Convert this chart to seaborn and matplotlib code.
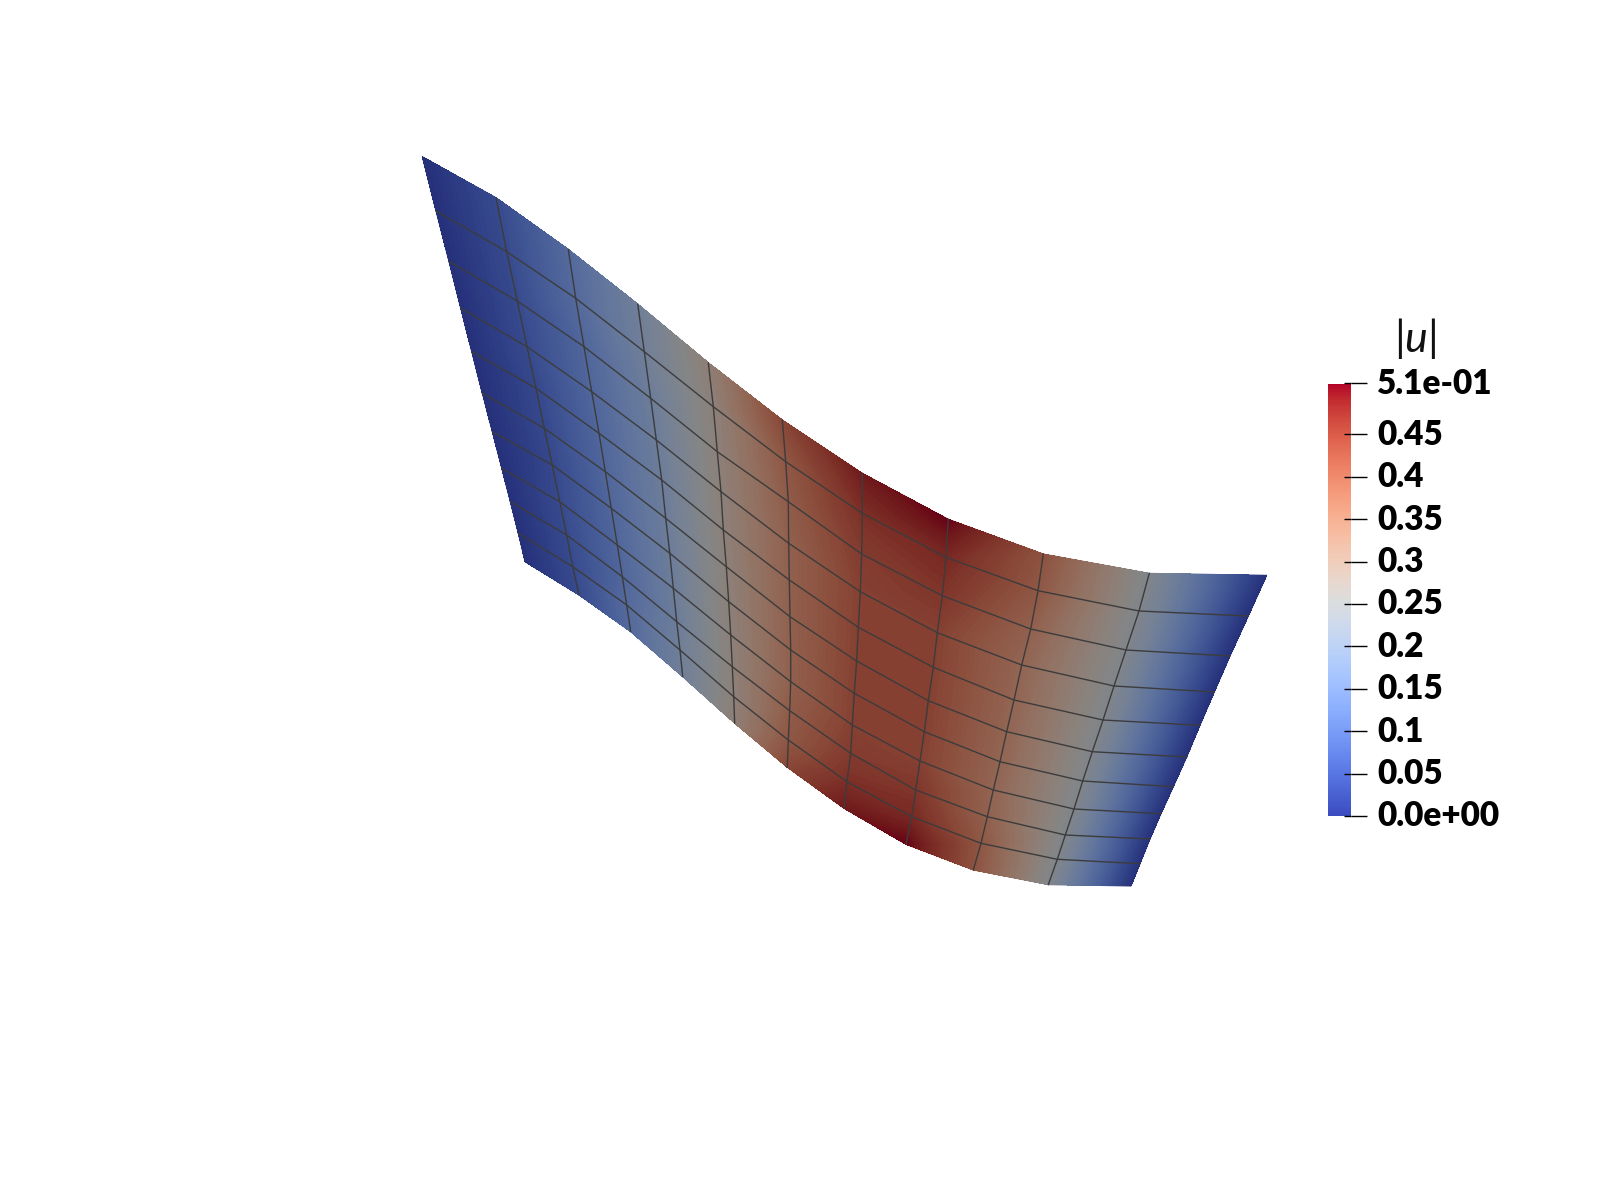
import numpy as np
import pandas as pd
import matplotlib
matplotlib.use("Agg")
import matplotlib.pyplot as plt
import matplotlib.tri as mtri
from matplotlib.cm import ScalarMappable
from matplotlib.colors import ListedColormap, Normalize
from matplotlib.transforms import ScaledTranslation
import seaborn as sns

# mesh nodes, one row per mesh column
node_x = [
    [422.3, 436.0, 449.0, 460.7, 471.7, 482.3, 492.3, 501.7, 510.3, 518.3, 525.0],
    [496.0, 506.7, 517.3, 527.0, 536.0, 544.3, 552.3, 559.7, 566.7, 572.7, 579.0],
    [568.3, 575.7, 584.0, 591.7, 599.0, 605.3, 611.3, 617.3, 622.3, 626.7, 630.7],
    [637.7, 644.3, 650.7, 656.3, 661.7, 665.7, 669.8, 673.3, 676.7, 680.0, 682.7],
    [708.3, 713.3, 717.3, 721.0, 723.3, 726.3, 728.7, 730.7, 732.3, 733.7, 734.7],
    [782.3, 785.7, 788.3, 788.7, 789.3, 790.0, 790.7, 790.7, 789.7, 788.3, 787.3],
    [862.3, 862.3, 861.7, 860.3, 858.3, 856.7, 854.3, 852.3, 850.7, 847.0, 844.0],
    [948.3, 946.0, 942.3, 937.3, 933.3, 928.3, 924.3, 920.0, 915.7, 911.7, 906.0],
    [1043.3, 1038.0, 1030.7, 1021.7, 1014.0, 1006.7, 1000.0, 993.3, 987.3, 981.0, 973.3],
    [1149.3, 1139.0, 1126.0, 1114.0, 1103.0, 1092.3, 1082.7, 1074.0, 1065.3, 1057.3, 1048.3],
    [1266.7, 1248.3, 1230.0, 1214.3, 1200.0, 1186.7, 1173.3, 1161.0, 1150.0, 1140.0, 1131.0],
]
node_y = [
    [156.7, 211.0, 261.7, 308.3, 351.7, 393.3, 431.7, 468.3, 501.7, 533.3, 561.7],
    [197.7, 251.7, 301.0, 346.7, 388.3, 428.3, 465.0, 501.7, 535.0, 566.7, 595.0],
    [249.3, 298.3, 346.7, 391.7, 433.3, 471.7, 508.3, 545.0, 576.7, 605.0, 631.7],
    [304.0, 351.7, 398.3, 440.0, 480.0, 518.3, 553.3, 588.3, 621.7, 650.0, 676.7],
    [362.7, 406.7, 451.7, 491.7, 530.0, 566.7, 601.7, 635.0, 666.7, 696.7, 723.3],
    [420.0, 461.7, 501.7, 543.3, 580.0, 616.7, 650.0, 681.7, 710.7, 740.0, 767.3],
    [473.3, 513.3, 554.0, 591.7, 627.3, 661.0, 693.3, 725.0, 753.3, 781.7, 808.3],
    [519.3, 557.3, 595.7, 632.7, 667.3, 700.7, 731.7, 761.0, 790.0, 816.7, 844.3],
    [554.0, 590.7, 629.0, 665.0, 700.0, 731.7, 761.7, 790.0, 816.7, 843.3, 870.0],
    [573.3, 611.0, 650.0, 686.0, 720.0, 751.7, 781.0, 809.0, 835.0, 859.3, 884.7],
    [575.3, 616.0, 656.0, 692.0, 725.3, 757.0, 786.7, 813.7, 839.0, 863.7, 886.0],
]
# |u| at the nodes, same layout
node_u = [
    [0.0, 0.0, 0.0, 0.0, 0.0, 0.0, 0.0, 0.0, 0.0, 0.0, 0.0],
    [0.05, 0.05, 0.05, 0.05, 0.045, 0.045, 0.045, 0.05, 0.05, 0.05, 0.05],
    [0.12, 0.12, 0.11, 0.11, 0.11, 0.11, 0.11, 0.11, 0.11, 0.12, 0.12],
    [0.19, 0.19, 0.18, 0.18, 0.18, 0.18, 0.18, 0.18, 0.18, 0.19, 0.19],
    [0.29, 0.28, 0.28, 0.28, 0.28, 0.28, 0.28, 0.28, 0.28, 0.28, 0.29],
    [0.42, 0.39, 0.38, 0.37, 0.37, 0.37, 0.37, 0.37, 0.38, 0.39, 0.42],
    [0.49, 0.46, 0.44, 0.43, 0.43, 0.43, 0.43, 0.43, 0.44, 0.46, 0.49],
    [0.51, 0.47, 0.45, 0.43, 0.43, 0.43, 0.43, 0.43, 0.45, 0.47, 0.51],
    [0.40, 0.39, 0.37, 0.36, 0.36, 0.36, 0.36, 0.36, 0.37, 0.39, 0.40],
    [0.24, 0.24, 0.24, 0.24, 0.24, 0.24, 0.24, 0.24, 0.24, 0.24, 0.24],
    [0.0, 0.0, 0.0, 0.0, 0.0, 0.0, 0.0, 0.0, 0.0, 0.0, 0.0],
]

u_max = 0.51
tick_values = [0, 0.05, 0.1, 0.15, 0.2, 0.25, 0.3, 0.35, 0.4, 0.45, 0.51]
tick_labels = ["0.0e+00", "0.05", "0.1", "0.15", "0.2", "0.25", "0.3", "0.35", "0.4", "0.45", "5.1e-01"]
bar_title = r"$|u|$"

sns.set_theme(style="white")
plt.rcParams["font.family"] = ["Lato", "DejaVu Sans"]
plt.rcParams["mathtext.fontset"] = "custom"
plt.rcParams["mathtext.it"] = "Lato:italic"
plt.rcParams["mathtext.rm"] = "Lato"

x = np.array(node_x)
y = np.array(node_y)
u = np.array(node_u)
n_col, n_row = x.shape

# surface is lit, so the colours are darker than in the bar
base_cmap = sns.color_palette("coolwarm", as_cmap=True)
lit = base_cmap(np.linspace(0, 1, 256))
lit[:, :3] *= np.linspace(0.63, 0.575, 256)[:, None]
lit_cmap = ListedColormap(lit)

fig = plt.figure(figsize=(16, 12), dpi=100)
ax = fig.add_axes([0, 0, 1, 1])

idx = np.arange(n_col * n_row).reshape(n_col, n_row)
triangles = []
for i in range(n_col - 1):
    for j in range(n_row - 1):
        triangles.append([idx[i, j], idx[i + 1, j], idx[i, j + 1]])
        triangles.append([idx[i + 1, j], idx[i + 1, j + 1], idx[i, j + 1]])
tri = mtri.Triangulation(x.ravel(), y.ravel(), triangles)

ax.tripcolor(tri, u.ravel(), shading="gouraud", cmap=lit_cmap, vmin=0, vmax=u_max)
ax.tricontourf(tri, u.ravel(), levels=np.linspace(0, u_max, 120), cmap=lit_cmap,
               vmin=0, vmax=u_max, extend="both", antialiased=False)

# mesh lines, the outer edge has none
mesh_rows = []
for i in range(1, n_col - 1):
    for j in range(n_row):
        mesh_rows.append({"x": x[i, j], "y": y[i, j], "line": f"c{i}", "order": j})
for j in range(1, n_row - 1):
    for i in range(n_col):
        mesh_rows.append({"x": x[i, j], "y": y[i, j], "line": f"r{j}", "order": i})
mesh = pd.DataFrame(mesh_rows)
sns.lineplot(data=mesh, x="x", y="y", units="line", estimator=None, sort=False,
             color="#3c3c3c", linewidth=1.0, ax=ax, legend=False)
ax.set_xlim(0, 1600)
ax.set_ylim(1200, 0)
ax.axis("off")

# colour bar
cax = fig.add_axes([1328 / 1600, 1 - 816 / 1200, 23 / 1600, (816 - 383.5) / 1200])
sm = ScalarMappable(Normalize(0, u_max), base_cmap)
cbar = fig.colorbar(sm, cax=cax, ticks=tick_values)
cbar.outline.set_visible(False)
cbar.set_ticklabels(tick_labels)
cax.tick_params(axis="y", direction="out", length=11.5, width=1.0, color="black", pad=7.5,
                labelsize=24, labelcolor="black")
shift_up = ScaledTranslation(0, 2.5 / 100, fig.dpi_scale_trans)
for lab in cax.get_yticklabels():
    lab.set_fontweight("heavy")
    lab.set_transform(lab.get_transform() + shift_up)
cax.hlines(tick_values, 0.7, 1, color="black", linewidth=1.0, transform=cax.get_yaxis_transform(), clip_on=False)
fig.text(1415 / 1600, 1 - 338 / 1200, bar_title, fontsize=31, color="#111111", ha="center", va="center")

fig.savefig("out.png", dpi=100, facecolor="white")
